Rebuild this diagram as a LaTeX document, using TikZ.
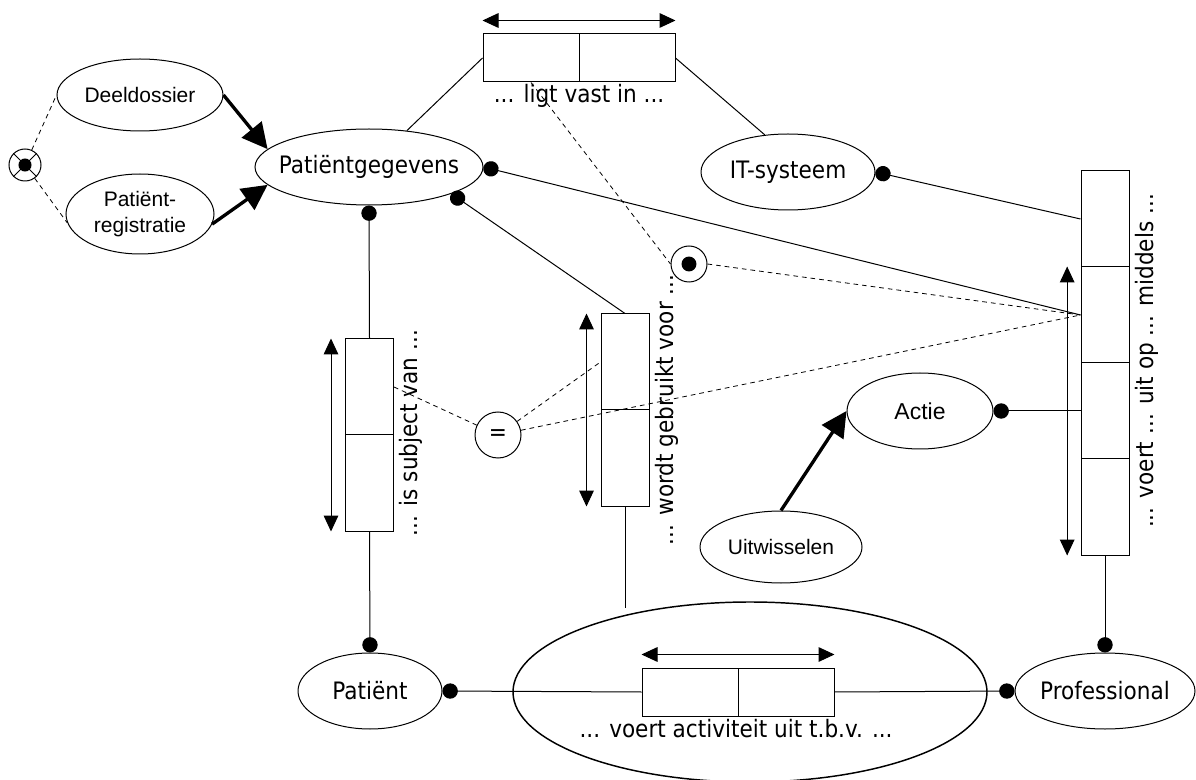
\documentclass[tikz,border=0pt]{standalone}
\usepackage{fontspec}
\setmainfont{DejaVu Sans Condensed}
\newfontfamily\arialf{Liberation Sans}
\usetikzlibrary{shapes.geometric,arrows.meta}

\begin{document}
\begin{tikzpicture}[x=0.75pt,y=-0.75pt,line width=0.75pt,
  font=\fontsize{18}{21.6}\selectfont,
  ent/.style={ellipse,draw,inner sep=0pt},
  afont/.style={font=\arialf\fontsize{15.75}{18.9}\selectfont},
  cellh/.style={draw,minimum width=72pt,minimum height=36pt,inner sep=0pt},
  cellv/.style={draw,minimum width=36pt,minimum height=72pt,inner sep=0pt},
  role/.style={inner sep=0pt},
  dotend/.style={-{Circle[length=11.5pt,width=11.5pt]}},
  thickarrow/.style={line width=2.5pt,-{Triangle[length=19pt,width=19pt]}},
  span/.style={{Triangle[length=12pt,width=11pt]}-{Triangle[length=12pt,width=11pt]}},
  cdash/.style={dash pattern=on 3.5pt off 3pt,line width=0.6pt}
]
\useasboundingbox (0,0) rectangle (1196,780);

% ---- entity ellipses ----
\node[ent,minimum width=171pt,minimum height=57pt,label={center:Patiëntgegevens}] (pg) at (369,167) {};
\node[ent,minimum width=124.5pt,minimum height=54pt,label={[afont]center:Deeldossier}] (dd) at (140,95) {};
\node[ent,minimum width=111pt,minimum height=60pt,label={[afont,align=center]center:Patiënt-\\registratie}] (pr) at (140,214) {};
\node[ent,minimum width=130.5pt,minimum height=57pt,label={center:IT-systeem}] (it) at (788,172) {};
\node[ent,minimum width=109.5pt,minimum height=57pt,label={[font=\arialf\fontsize{17.25}{20}\selectfont]center:Actie}] (actie) at (920,411) {};
\node[ent,minimum width=121.5pt,minimum height=54pt,label={[afont]center:Uitwisselen}] (uit) at (781,547) {};
\node[ent,minimum width=108pt,minimum height=57pt,label={center:Patiënt}] (pat) at (370,691) {};
\node[ent,minimum width=135pt,minimum height=57pt,label={center:Professional}] (prof) at (1105,691) {};
\node[ent,line width=1.1pt,minimum width=355.5pt,minimum height=135pt] (big) at (750,692) {};

% ---- fact type boxes ----
\node[cellh] (l1) at (531,58) {};
\node[cellh] (l2) at (627,58) {};
\node[role,anchor=base] (lligt) at (579,103) {... ligt vast in ...};
\draw[span] ([yshift=9.75pt]l1.north west) -- ([yshift=9.75pt]l2.north east);

\node[cellh] (b1) at (690,692) {};
\node[cellh] (b2) at (786,692) {};
\node[role,anchor=base] (lvoert) at (736,737) {... voert activiteit uit t.b.v. ...};
\draw[span] ([yshift=9.75pt]b1.north west) -- ([yshift=9.75pt]b2.north east);

\node[cellv] (s1) at (369.5,387) {};
\node[cellv] (s2) at (369.5,483) {};
\node[role,rotate=90,anchor=base] (lsub) at (417,433) {... is subject van ...};
\draw[span] ([xshift=-10.5pt]s1.north west) -- ([xshift=-10.5pt]s2.south west);

\node[cellv] (w1) at (625,362) {};
\node[cellv] (w2) at (625,458) {};
\node[role,rotate=90,anchor=base] (lwordt) at (673,410) {... wordt gebruikt voor ...};
\draw[span] ([xshift=-10.5pt]w1.north west) -- ([xshift=-10.5pt]w2.south west);

\node[cellv] (v1) at (1105,219) {};
\node[cellv] (v2) at (1105,315) {};
\node[cellv] (v3) at (1105,411) {};
\node[cellv] (v4) at (1105,507) {};
\node[role,rotate=90,anchor=base] (lmid) at (1153,361) {... voert ... uit op ... middels ...};
\draw[span] ([xshift=-10pt]v2.north west) -- ([xshift=-10pt]v4.south west);

% ---- constraint symbols ----
\node[circle,draw,minimum size=24pt,inner sep=0pt] (xc) at (25,165) {};
\draw (xc.45) -- (xc.225) (xc.135) -- (xc.315);
\fill (xc.center) circle[radius=4.9pt];

\node[circle,draw,minimum size=27pt,inner sep=0pt] (cd) at (689,264) {};
\fill (cd.center) circle[radius=5.6pt];

\node[circle,draw,minimum size=34.5pt,inner sep=0pt] (eq) at (498,435) {=};

\coordinate (wend) at (625,608);

% ---- role connectors ----
\draw (l1.west) -- (pg);
\draw (l2.east) -- (it.122);
\draw[dotend] (v1.west) -- (it.east);
\draw[dotend] (v2.west) -- (pg.east);
\draw[dotend] (w1.north) -- (pg.-18);
\draw[dotend] (s1.north) -- (pg.south);
\draw[dotend] (s2.south) -- (pat.north);
\draw[dotend] (b1.west) -- (pat.east);
\draw[dotend] (b2.east) -- (prof.west);
\draw[dotend] (v4.south) -- (prof.north);
\draw[dotend] (v3.west) -- (actie.east);
\draw (w2.south) -- (wend);

% ---- subtype arrows ----
\draw[thickarrow] (dd.east) -- (pg.170);
\draw[thickarrow] (pr.-8) -- (pg.190);
\draw[thickarrow] (uit.north) -- (actie.west);

% ---- constraint links ----
\draw[cdash] (xc) -- (dd.west);
\draw[cdash] (xc) -- (pr.187);
\draw[cdash] (l1.south) -- (cd.west);
\draw[cdash] (cd.east) -- (v2.west);
\draw[cdash] (s1.east) -- (eq);
\draw[cdash] (eq) -- (w1.west);
\draw[cdash] (eq) -- (v2.west);
\end{tikzpicture}
\end{document}
